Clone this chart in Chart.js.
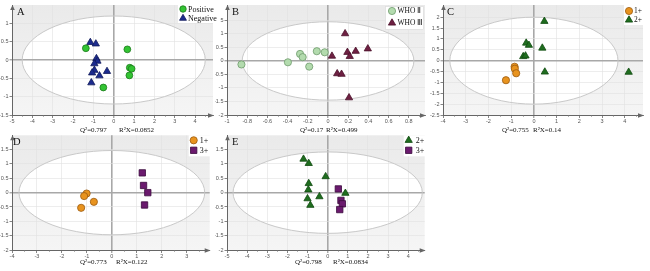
<!DOCTYPE html>
<html><head><meta charset="utf-8">
<script src="https://cdn.jsdelivr.net/npm/chart.js@4/dist/chart.umd.min.js"></script>
<style>
html,body{margin:0;padding:0;background:#fff;width:650px;height:271px;overflow:hidden;position:relative}
canvas{position:absolute}
.lbl{position:absolute;font-family:"Liberation Serif","Times New Roman",serif;color:#111;white-space:nowrap;z-index:10}
.stat{font-size:7px;line-height:8px}
.letter{font-size:10.5px;line-height:11px}
</style></head><body>
<canvas id="cB" width="215" height="125" style="left:215px;top:0;z-index:1"></canvas>
<canvas id="cC" width="220" height="125" style="left:430px;top:0;z-index:1"></canvas>
<canvas id="cA" width="220" height="125" style="left:0;top:0;z-index:2"></canvas>
<canvas id="cE" width="215" height="130" style="left:215px;top:130px;z-index:1"></canvas>
<canvas id="cD" width="215" height="130" style="left:0;top:130px;z-index:2"></canvas>

<div class="lbl letter" style="left:17px;top:6px">A</div>
<div class="lbl letter" style="left:232px;top:6px">B</div>
<div class="lbl letter" style="left:447px;top:6px">C</div>
<div class="lbl letter" style="left:13px;top:136px">D</div>
<div class="lbl letter" style="left:232px;top:136px">E</div>

<div class="lbl stat" style="left:80px;top:126px">Q²=0.797</div>
<div class="lbl stat" style="left:119px;top:126px">R²X=0.0852</div>
<div class="lbl stat" style="left:300px;top:126px">Q²=0.17</div>
<div class="lbl stat" style="left:326px;top:126px">R²X=0.499</div>
<div class="lbl stat" style="left:502px;top:126px">Q²=0.755</div>
<div class="lbl stat" style="left:533px;top:126px">R²X=0.14</div>
<div class="lbl stat" style="left:80px;top:258px">Q²=0.773</div>
<div class="lbl stat" style="left:116px;top:258px">R²X=0.122</div>
<div class="lbl stat" style="left:295px;top:258px">Q²=0.798</div>
<div class="lbl stat" style="left:333px;top:258px">R²X=0.0834</div>

<script>
// ---------- Panel A ----------
const aPositiveX = [-1.37, 0.67, 0.79, 0.88, 0.77, -0.51];
const aPositiveY = [0.32, 0.29, -0.21, -0.24, -0.42, -0.75];
const aNegativeX = [-1.15, -0.88, -0.85, -0.80, -0.95, -0.95, -1.06, -0.33, -0.70, -1.10];
const aNegativeY = [0.48, 0.44, 0.04, -0.03, -0.10, -0.28, -0.35, -0.31, -0.43, -0.62];
const aXTicks = [-5, -4, -3, -2, -1, 0, 1, 2, 3, 4];
const aYTicks = [-1.5, -1, -0.5, 0, 0.5, 1];
const aXRange = [-5, 4.88];
const aYRange = [-1.5, 1.5];
const aEllipse = [4.5, 1.2];

// ---------- Panel B ----------
const bWho2X = [-0.857, -0.397, -0.277, -0.251, -0.186, -0.111, -0.033];
const bWho2Y = [-0.13, -0.05, 0.26, 0.14, -0.21, 0.36, 0.32];
const bWho3X = [0.169, 0.039, 0.192, 0.215, 0.274, 0.394, 0.091, 0.134, 0.208];
const bWho3Y = [1.01, 0.18, 0.32, 0.17, 0.36, 0.45, -0.47, -0.49, -1.36];
const bXTicks = [-1, -0.8, -0.6, -0.4, -0.2, 0, 0.2, 0.4, 0.6, 0.8];
const bYTicks = [-2, -1.5, -1, -0.5, 0, 0.5, 1, 1.5];
const bXRange = [-1, 0.96];
const bYRange = [-2, 2.07];
const bEllipse = [0.85, 1.45];

// ---------- Panel C ----------
const c1X = [-0.85, -0.84, -0.78, -1.23];
const c1Y = [-0.28, -0.37, -0.58, -0.90];
const c2X = [0.46, -0.34, -0.22, 0.37, -0.47, -0.37, 0.48, 4.17];
const c2Y = [1.81, 0.81, 0.71, 0.58, 0.19, 0.22, -0.52, -0.53];
const cXTicks = [-4, -3, -2, -1, 0, 1, 2, 3, 4];
const cYTicks = [-2.5, -2, -1.5, -1, -0.5, 0, 0.5, 1, 1.5, 2];
const cXRange = [-4, 4.8];
const cYRange = [-2.5, 2.56];
const cEllipse = [3.7, 2.0];

// ---------- Panel D ----------
const d1X = [-1.01, -1.11, -0.72, -1.23];
const d1Y = [-0.03, -0.12, -0.32, -0.53];
const d3X = [1.22, 1.27, 1.44, 1.31];
const d3Y = [0.69, 0.25, 0.0, -0.43];
const dXTicks = [-4, -3, -2, -1, 0, 1, 2, 3];
const dYTicks = [-2, -1.5, -1, -0.5, 0, 0.5, 1, 1.5];
const dXRange = [-4, 3.92];
const dYRange = [-2, 2];
const dEllipse = [3.72, 1.47];

// ---------- Panel E ----------
const e2X = [-1.20, -0.94, -0.10, -0.94, -0.96, -1.00, -0.41, -0.86, 0.88];
const e2Y = [1.17, 1.02, 0.56, 0.32, 0.10, -0.21, -0.14, -0.44, -0.02];
const e3X = [0.53, 0.66, 0.73, 0.60];
const e3Y = [0.13, -0.27, -0.39, -0.59];
const eXTicks = [-5, -4, -3, -2, -1, 0, 1, 2, 3, 4];
const eYTicks = [-2, -1.5, -1, -0.5, 0, 0.5, 1, 1.5];
const eXRange = [-5, 4.82];
const eYRange = [-2, 2];
const eEllipse = [4.7, 1.42];

// ---------- styles ----------
const ST = {
  positive: {fill: '#33c433', stroke: '#1a7a1a', style: 'circle', r: 3.4},
  negative: {fill: '#1c2b8e', stroke: '#101a5a', style: 'triangle', r: 4.2},
  who2:     {fill: '#b3dbae', stroke: '#6f9a6c', style: 'circle', r: 3.6},
  who3:     {fill: '#6e2042', stroke: '#4a1029', style: 'triangle', r: 4.2},
  one:      {fill: '#e8931e', stroke: '#9a5a10', style: 'circle', r: 3.6},
  two:      {fill: '#1f6d1f', stroke: '#0f4a0f', style: 'triangle', r: 4.2},
  three:    {fill: '#6b1a6e', stroke: '#3a0a3c', style: 'rect', r: 4.5}
};

function drawMarker(ctx, style, r, x, y) {
  ctx.beginPath();
  if (style === 'circle') {
    ctx.arc(x, y, r, 0, Math.PI * 2);
  } else if (style === 'triangle') {
    let rad = 0;
    for (let k = 0; k < 3; k++) {
      const px = x + Math.sin(rad) * r, py = y - Math.cos(rad) * r;
      if (k === 0) ctx.moveTo(px, py); else ctx.lineTo(px, py);
      rad += Math.PI * 2 / 3;
    }
    ctx.closePath();
  } else {
    const s = Math.SQRT1_2 * r;
    ctx.rect(x - s, y - s, 2 * s, 2 * s);
  }
  ctx.fill();
  ctx.stroke();
}

const panelPlugin = {
  id: 'panel',
  beforeDraw(chart, args, opts) {
    const {ctx, chartArea: a} = chart;
    const x = chart.scales.x, y = chart.scales.y;
    ctx.save();
    const g = ctx.createLinearGradient(0, a.top, 0, a.bottom);
    g.addColorStop(0, '#eaeaea');
    g.addColorStop(1, '#f5f5f5');
    ctx.fillStyle = g;
    ctx.fillRect(a.left, a.top, a.width, a.height);
    const cx = x.getPixelForValue(0), cy = y.getPixelForValue(0);
    const rx = x.getPixelForValue(opts.ellipse[0]) - cx;
    const ry = cy - y.getPixelForValue(opts.ellipse[1]);
    ctx.beginPath();
    ctx.ellipse(cx, cy, rx, ry, 0, 0, Math.PI * 2);
    ctx.fillStyle = '#ffffff';
    ctx.fill();
    ctx.restore();
  },
  beforeDatasetsDraw(chart, args, opts) {
    const {ctx, chartArea: a} = chart;
    const x = chart.scales.x, y = chart.scales.y;
    ctx.save();
    const cx = x.getPixelForValue(0), cy = y.getPixelForValue(0);
    const rx = x.getPixelForValue(opts.ellipse[0]) - cx;
    const ry = cy - y.getPixelForValue(opts.ellipse[1]);
    ctx.beginPath();
    ctx.ellipse(cx, cy, rx, ry, 0, 0, Math.PI * 2);
    ctx.strokeStyle = '#c9c9c9';
    ctx.lineWidth = 1;
    ctx.stroke();
    // minor ticks on x axis
    ctx.strokeStyle = '#777';
    ctx.lineWidth = 0.7;
    const t = x.ticks.map(tk => tk.value);
    for (let i = 0; i < t.length; i++) {
      const step = i + 1 < t.length ? t[i + 1] - t[i] : t[i] - t[i - 1];
      const mv = t[i] + step / 2;
      if (mv > x.max) continue;
      const px = Math.round(x.getPixelForValue(mv)) + 0.5;
      ctx.beginPath();
      ctx.moveTo(px, a.bottom);
      ctx.lineTo(px, a.bottom + 1.8);
      ctx.stroke();
    }
    // arrows
    ctx.fillStyle = '#666';
    ctx.beginPath();
    ctx.moveTo(a.right + 1, a.bottom + 0.5);
    ctx.lineTo(a.right - 5, a.bottom - 1.8);
    ctx.lineTo(a.right - 5, a.bottom + 2.8);
    ctx.closePath();
    ctx.fill();
    ctx.beginPath();
    ctx.moveTo(a.left + 0.5, a.top);
    ctx.lineTo(a.left - 1.8, a.top + 5);
    ctx.lineTo(a.left + 2.8, a.top + 5);
    ctx.closePath();
    ctx.fill();
    ctx.restore();
  },
  afterDatasetsDraw(chart, args, opts) {
    const lg = opts.legend;
    const {ctx, chartArea: a} = chart;
    ctx.save();
    ctx.fillStyle = '#ffffff';
    ctx.fillRect(a.right + lg.box[0], a.top + lg.box[1], lg.box[2], lg.box[3]);
    if (lg.border) {
      ctx.strokeStyle = '#dddddd';
      ctx.lineWidth = 0.8;
      ctx.strokeRect(a.right + lg.box[0] + 0.5, a.top + lg.box[1] + 0.5, lg.box[2] - 1, lg.box[3] - 1);
    }
    chart.data.datasets.forEach((ds, i) => {
      const px = a.right + lg.dx, py = a.top + lg.dy + i * lg.gap;
      ctx.fillStyle = ds.backgroundColor;
      ctx.strokeStyle = ds.borderColor;
      ctx.lineWidth = 0.8;
      drawMarker(ctx, ds.pointStyle, ds.pointRadius * (lg.scale || 1), px, py);
      ctx.fillStyle = '#111';
      ctx.font = lg.font + 'px "Liberation Serif", serif';
      ctx.textBaseline = 'middle';
      ctx.textAlign = 'left';
      ctx.fillText(ds.label, px + lg.textGap, py + 0.5);
    });
    ctx.restore();
  }
};

function makeChart(id, cfg) {
  const tickFont = {family: '"Liberation Sans", Arial, sans-serif', size: 5.5};
  const gridColor = c => (c.tick && c.tick.value === 0) ? '#a8a8a8' : '#e0e0e0';
  const gridWidth = c => (c.tick && c.tick.value === 0) ? 1.6 : 0.6;
  return new Chart(document.getElementById(id), {
    type: 'scatter',
    data: {
      datasets: cfg.series.map(s => ({
        label: s.label,
        data: s.xs.map((v, i) => ({x: v, y: s.ys[i]})),
        pointStyle: s.st.style,
        pointRadius: s.st.r,
        pointHoverRadius: s.st.r,
        backgroundColor: s.st.fill,
        borderColor: s.st.stroke,
        borderWidth: 0.8
      }))
    },
    options: {
      responsive: false,
      animation: false,
      events: [],
      layout: {padding: cfg.pad},
      plugins: {
        legend: {display: false},
        tooltip: {enabled: false},
        panel: {ellipse: cfg.ellipse, legend: cfg.legend}
      },
      scales: {
        x: {
          type: 'linear', position: 'bottom', min: cfg.xr[0], max: cfg.xr[1],
          afterBuildTicks: s => { s.ticks = cfg.xt.map(v => ({value: v})); },
          afterFit: s => { s.height = 10; s.paddingLeft = 0; s.paddingRight = 0; },
          ticks: {font: tickFont, color: '#555', padding: 0, maxRotation: 0, autoSkip: false, callback: v => String(v)},
          grid: {color: gridColor, lineWidth: gridWidth, tickLength: 3, tickColor: '#666', tickWidth: 0.8},
          border: {color: '#666', width: 1}
        },
        y: {
          type: 'linear', position: 'left', min: cfg.yr[0], max: cfg.yr[1],
          afterBuildTicks: s => { s.ticks = cfg.yt.map(v => ({value: v})); },
          afterFit: s => { s.width = cfg.yw; s.paddingTop = 0; s.paddingBottom = 0; },
          ticks: {font: tickFont, color: '#555', padding: 1, autoSkip: false, callback: v => String(v)},
          grid: {color: gridColor, lineWidth: gridWidth, tickLength: 2.5, tickColor: '#666', tickWidth: 0.8},
          border: {color: '#666', width: 1}
        }
      }
    },
    plugins: [panelPlugin]
  });
}

makeChart('cA', {
  series: [
    {label: 'Positive', xs: aPositiveX, ys: aPositiveY, st: ST.positive},
    {label: 'Negative', xs: aNegativeX, ys: aNegativeY, st: ST.negative}
  ],
  xt: aXTicks, yt: aYTicks, xr: aXRange, yr: aYRange, ellipse: aEllipse,
  yw: 12, pad: {left: 0, right: 7, top: 0, bottom: 0},
  legend: {dx: -30, dy: 4, gap: 9.3, textGap: 5, font: 8, box: [-35, 0, 42, 18], border: false, scale: 0.95}
});
makeChart('cB', {
  series: [
    {label: 'WHO Ⅱ', xs: bWho2X, ys: bWho2Y, st: ST.who2},
    {label: 'WHO Ⅲ', xs: bWho3X, ys: bWho3Y, st: ST.who3}
  ],
  xt: bXTicks, yt: bYTicks, xr: bXRange, yr: bYRange, ellipse: bEllipse,
  yw: 12, pad: {left: 0, right: 2, top: 0, bottom: 0},
  legend: {dx: -33, dy: 6, gap: 12, textGap: 5.5, font: 7.5, box: [-40, 1, 39, 24], border: true, scale: 1}
});
makeChart('cC', {
  series: [
    {label: '1+', xs: c1X, ys: c1Y, st: ST.one},
    {label: '2+', xs: c2X, ys: c2Y, st: ST.two}
  ],
  xt: cXTicks, yt: cYTicks, xr: cXRange, yr: cYRange, ellipse: cEllipse,
  yw: 13, pad: {left: 0, right: 7, top: 0, bottom: 0},
  legend: {dx: -14, dy: 6, gap: 9, textGap: 5, font: 7.5, box: [-19, 0, 24, 20], border: false, scale: 1}
});
makeChart('cD', {
  series: [
    {label: '1+', xs: d1X, ys: d1Y, st: ST.one},
    {label: '3+', xs: d3X, ys: d3Y, st: ST.three}
  ],
  xt: dXTicks, yt: dYTicks, xr: dXRange, yr: dYRange, ellipse: dEllipse,
  yw: 12, pad: {left: 0, right: 2, top: 5, bottom: 0},
  legend: {dx: -16, dy: 5, gap: 10, textGap: 6, font: 8, box: [-21, 0, 23, 21], border: false, scale: 1}
});
makeChart('cE', {
  series: [
    {label: '2+', xs: e2X, ys: e2Y, st: ST.two},
    {label: '3+', xs: e3X, ys: e3Y, st: ST.three}
  ],
  xt: eXTicks, yt: eYTicks, xr: eXRange, yr: eYRange, ellipse: eEllipse,
  yw: 12, pad: {left: 0, right: 2, top: 5, bottom: 0},
  legend: {dx: -16, dy: 5, gap: 10, textGap: 7, font: 8, box: [-21, 0, 23, 21], border: false, scale: 1}
});
</script>
</body></html>
